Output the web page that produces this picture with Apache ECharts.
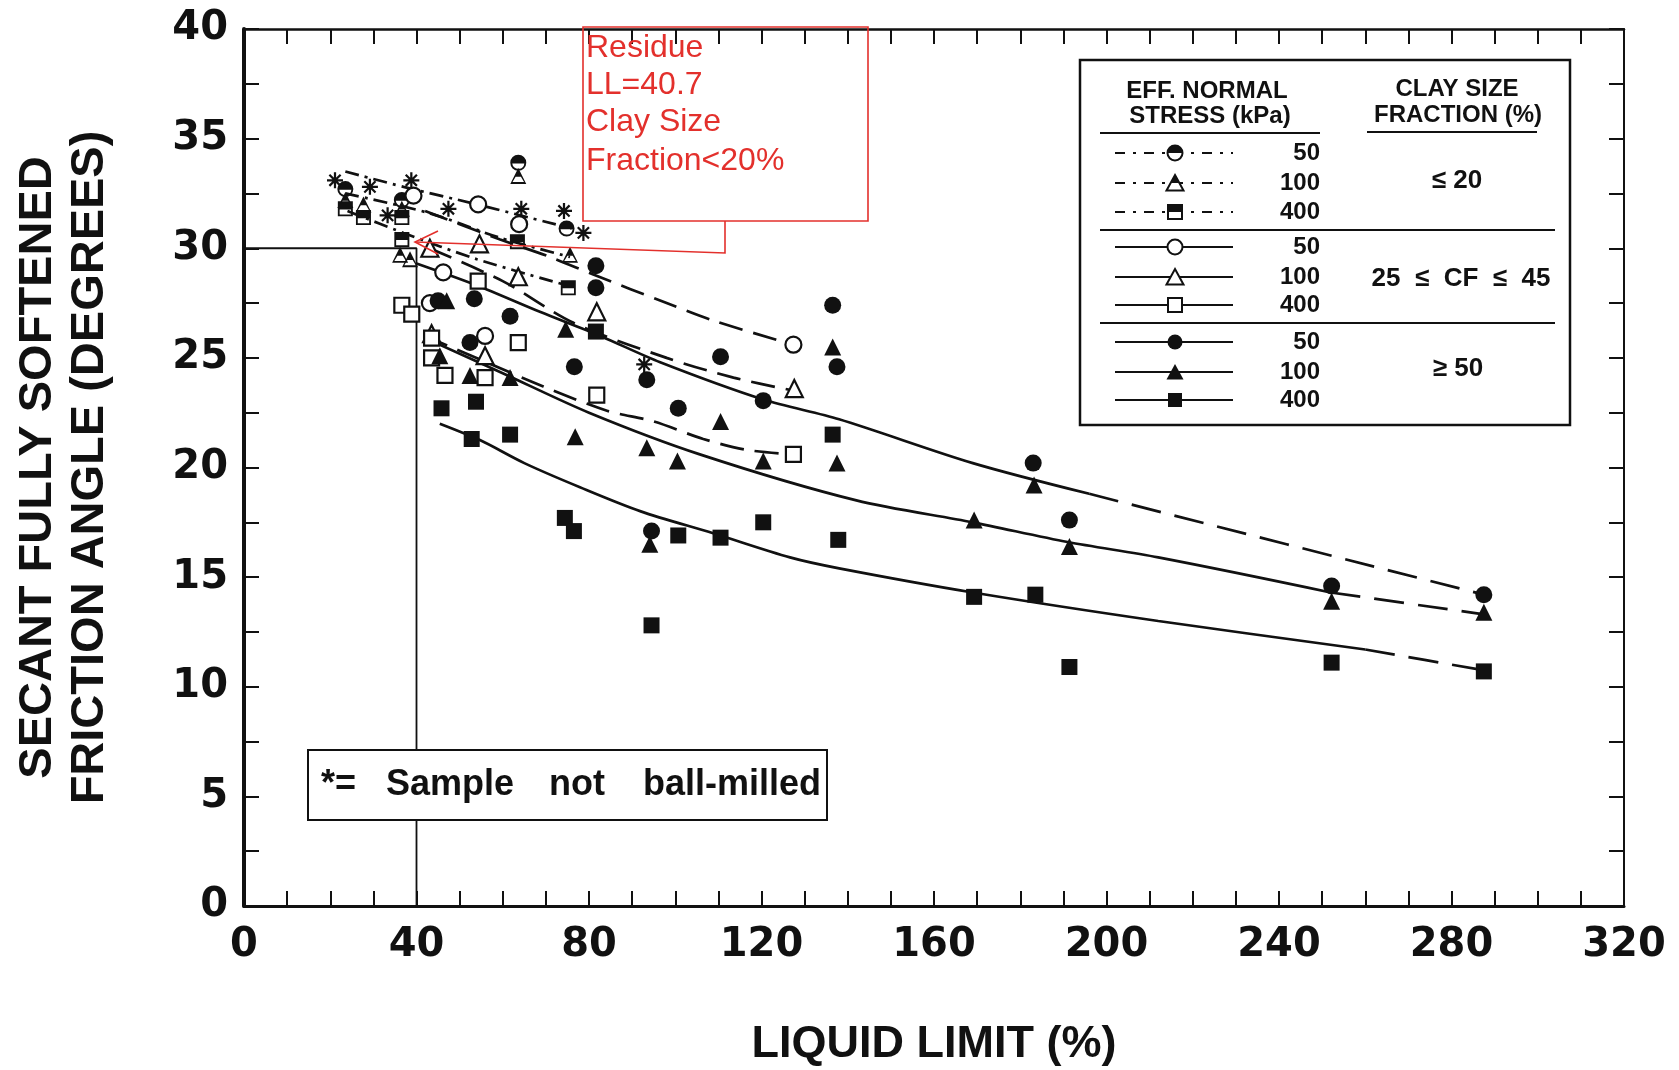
<!DOCTYPE html>
<html><head><meta charset="utf-8">
<script src="https://cdn.jsdelivr.net/npm/echarts@6/dist/echarts.min.js"></script>
<style>html,body{margin:0;padding:0;background:#fff}#chart{width:1679px;height:1070px}</style>
</head><body><div id="chart"></div>
<script>
// ---------- axis ranges ----------
const xRange = [0, 320], xStep = 40;
const yRange = [0, 40], yStep = 5;

// ---------- measured points [liquid limit %, friction angle deg] ----------
// clay size fraction <= 20 % (half-filled symbols)
const c20_50  = [[23.5,32.7],[36.6,32.2],[63.6,33.9],[74.8,30.9]];
const t20_100 = [[23.5,32.2],[27.7,32.0],[36.6,31.8],[63.6,33.3],[75.6,29.7],[36.2,29.7],[38.5,29.5]];
const s20_400 = [[23.5,31.8],[27.7,31.4],[36.6,31.4],[36.6,30.4],[63.4,30.3],[75.2,28.2]];
// 25 <= CF <= 45 (open symbols)
const c25_50  = [[39.3,32.4],[54.3,32.0],[63.8,31.1],[46.2,28.9],[43.1,27.5],[55.9,26.0],[127.4,25.6]];
const t25_100 = [[43.1,30.0],[54.6,30.2],[63.6,28.7],[81.8,27.1],[55.9,25.1],[43.5,26.1],[127.6,23.6]];
const s25_400 = [[36.6,27.4],[38.9,27.0],[54.3,28.5],[63.6,25.7],[43.5,25.9],[43.5,25.0],[46.6,24.2],[55.9,24.1],[81.8,23.3],[127.4,20.6]];
// CF >= 50 (filled symbols)
const c50_50  = [[45.0,27.6],[53.4,27.7],[61.7,26.9],[52.4,25.7],[76.6,24.6],[81.6,28.2],[81.6,29.2],[93.4,24.0],[94.5,17.1],[100.7,22.7],[110.5,25.05],[120.4,23.05],[136.5,27.4],[137.5,24.6],[183.0,20.2],[191.4,17.6],[252.2,14.6],[287.5,14.2]];
const t50_100 = [[47.0,27.6],[45.4,25.1],[52.4,24.2],[61.7,24.1],[74.6,26.3],[76.8,21.4],[93.4,20.9],[94.1,16.5],[100.5,20.3],[110.5,22.1],[120.4,20.3],[136.5,25.5],[137.5,20.2],[169.3,17.6],[183.2,19.2],[191.4,16.4],[252.2,13.9],[287.5,13.4]];
const s50_400 = [[45.8,22.7],[53.8,23.0],[52.8,21.3],[61.7,21.5],[81.6,26.2],[74.4,17.7],[76.5,17.1],[94.5,12.8],[100.7,16.9],[110.5,16.8],[120.4,17.5],[136.5,21.5],[137.8,16.7],[169.3,14.1],[183.5,14.2],[191.4,10.9],[252.2,11.1],[287.5,10.7]];
// samples not ball-milled (*)
const notBallMilled = [[21.1,33.1],[29.2,32.8],[38.8,33.1],[33.3,31.5],[47.4,31.8],[64.3,31.8],[74.2,31.7],[78.7,30.7],[92.8,24.7]];

// ---------- fitted trend lines ----------
const fit20_50  = [[23.5,33.5],[37,32.8],[54,32.0],[76,30.9]];
const fit20_100 = [[23.5,32.5],[43,31.6],[59,30.5],[75.6,29.6]];
const fit20_400 = [[24,31.7],[37,30.7],[54,29.5],[75,28.3]];
const fit25_50  = [[42,31.7],[59.4,30.4],[71,29.6],[81,28.8],[98,27.5],[108.8,26.7],[127.4,25.6]];
const fit25_100 = [[43,30.0],[60,28.5],[76.4,26.6],[98,25.0],[113.5,24.1],[127.6,23.5]];
const fit25_400 = [[42,26.0],[55,24.9],[69.4,23.7],[84,22.6],[95,22.1],[106.5,21.3],[116.6,20.8],[127.4,20.6]];
const fit50_50  = [[40,29.3],[54,28.3],[68.6,27.1],[82.6,26.0],[96.5,24.8],[120.4,23.1],[138,22.2],[169,20.2],[196,18.8]];
const ext50_50  = [[196,18.8],[287.5,14.2]];
const fit50_100 = [[42,25.9],[60,24.3],[80,22.5],[105.7,20.6],[142,18.5],[169,17.5],[191,16.6],[212,15.9],[252,14.3]];
const ext50_100 = [[252,14.3],[287.5,13.3]];
const fit50_400 = [[45.4,22.0],[54.7,21.25],[65,20.2],[77.9,19.1],[92,18.0],[108.8,17.0],[126.6,15.9],[138,15.4],[169,14.3],[212,13.0],[260,11.7]];
const ext50_400 = [[260,11.7],[287.5,10.75]];
// residue reference (LL ~ 40, angle 30)
const residueRef = [[0,30],[40,30],[40,0]];

// ---------- legend texts ----------
const stressLabels = ['50','100','400'];
const clayGroups = ['\u2264 20','25  \u2264  CF  \u2264  45','\u2265 50'];
const annotationLines = ['Residue','LL=40.7','Clay Size','Fraction<20%'];

// ---------- symbols ----------
const P_HALF_CIRCLE = 'M0,50 A50,50 0 1,1 100,50 A50,50 0 1,1 0,50 Z M87.8,54 L12.2,54 A38,38 0 0,0 87.8,54 Z';
const P_HALF_TRI = 'M50,0 L100,100 L0,100 Z M33.5,55 L14,88 L86,88 L66.5,55 Z';
const P_HALF_RECT = 'M0,0 L100,0 L100,100 L0,100 Z M12,54 L12,88 L88,88 L88,54 Z';
const P_STAR = 'M43,0 L57,0 L57,100 L43,100 Z M0,43 L100,43 L100,57 L0,57 Z M19.9,10.1 L89.9,80.1 L80.1,89.9 L10.1,19.9 Z M80.1,10.1 L89.9,19.9 L19.9,89.9 L10.1,80.1 Z';

const INK = '#111';
const RED = '#e3302c';
const NUMFONT = "'DejaVu Sans', sans-serif";
const SANS = "'Liberation Sans', Arial, sans-serif";

function fitLine(name, data, dash) {
  return {name, type:'line', data, symbol:'none', smooth:0.3, silent:true, z:2,
    lineStyle:{color:INK, width:2.7, type:dash}};
}
function pts(name, data, symbol, size, empty) {
  return {name, type:'scatter', data, symbol, symbolSize:size, z:5,
    itemStyle: empty ? {color:'#fff', borderColor:INK, borderWidth:2.2, opacity:1}
                     : {color:INK, borderWidth:0, opacity:1}};
}
const DASHDOT = [14,6,3,6];
const DASH = [24,11];
const LONGDASH = [30,14];

const series = [
  fitLine('fit20_50', fit20_50, DASHDOT),
  fitLine('fit20_100', fit20_100, DASHDOT),
  fitLine('fit20_400', fit20_400, DASHDOT),
  fitLine('fit25_50', fit25_50, DASH),
  fitLine('fit25_100', fit25_100, DASH),
  fitLine('fit25_400', fit25_400, DASH),
  fitLine('fit50_50', fit50_50, 'solid'),
  fitLine('ext50_50', ext50_50, LONGDASH),
  fitLine('fit50_100', fit50_100, 'solid'),
  fitLine('ext50_100', ext50_100, LONGDASH),
  fitLine('fit50_400', fit50_400, 'solid'),
  fitLine('ext50_400', ext50_400, LONGDASH),
  {name:'residue', type:'line', data:residueRef, symbol:'none', silent:true, z:1,
    lineStyle:{color:INK, width:1.8}},
  pts('c20_50', c20_50, 'path://'+P_HALF_CIRCLE, 16, false),
  pts('t20_100', t20_100, 'path://'+P_HALF_TRI, 16, false),
  pts('s20_400', s20_400, 'path://'+P_HALF_RECT, 15, false),
  pts('c25_50', c25_50, 'circle', 16, true),
  pts('t25_100', t25_100, 'triangle', 17, true),
  pts('s25_400', s25_400, 'rect', 15, true),
  pts('c50_50', c50_50, 'circle', 17, false),
  pts('t50_100', t50_100, 'triangle', 17, false),
  pts('s50_400', s50_400, 'rect', 16, false),
  pts('notBallMilled', notBallMilled, 'path://'+P_STAR, 16, false)
];

// ---------- legend drawn with graphic ----------
const G = [];
function txt(x, y, text, size, opts) {
  opts = opts || {};
  G.push({type:'text', x, y, z:20, style:{
    text, fontSize:size, fontWeight:opts.weight||'bold', fontFamily:opts.family||SANS,
    fill:opts.color||INK, align:opts.align||'center', verticalAlign:'middle',
    textAlign:opts.align||'center', textVerticalAlign:'middle'}});
}
function hline(x1, x2, y, w, dash) {
  const st = {stroke:INK, lineWidth:w||2};
  if (dash) st.lineDash = dash;
  G.push({type:'line', z:20, shape:{x1, y1:y, x2, y2:y}, style:st});
}
function legendSym(kind, shape, cx, cy) {
  const open = {fill:'#fff', stroke:INK, lineWidth:2};
  const fill = {fill:INK};
  const st = kind==='filled' ? fill : open;
  if (shape==='circle') {
    G.push({type:'circle', z:21, shape:{cx, cy, r:7.5}, style:st});
    if (kind==='half') G.push({type:'sector', z:22, shape:{cx, cy, r0:0, r:7.5, startAngle:Math.PI, endAngle:Math.PI*2, clockwise:true}, style:fill});
  } else if (shape==='triangle') {
    G.push({type:'polygon', z:21, shape:{points:[[cx,cy-8],[cx+8.5,cy+7.5],[cx-8.5,cy+7.5]]}, style:st});
    if (kind==='half') G.push({type:'polygon', z:22, shape:{points:[[cx,cy-8],[cx+4.5,cy],[cx-4.5,cy]]}, style:fill});
  } else {
    G.push({type:'rect', z:21, shape:{x:cx-7, y:cy-7, width:14, height:14}, style:st});
    if (kind==='half') G.push({type:'rect', z:22, shape:{x:cx-7, y:cy-7, width:14, height:7}, style:fill});
  }
}

// legend frame
G.push({type:'rect', z:19, shape:{x:1080, y:60, width:490, height:365}, style:{fill:'#fff', stroke:INK, lineWidth:2.5}});
txt(1207, 91, 'EFF. NORMAL', 24);
txt(1210, 116, 'STRESS (kPa)', 24);
txt(1457, 89, 'CLAY SIZE', 24);
txt(1458, 115, 'FRACTION (%)', 24);
hline(1100, 1320, 133, 2);
hline(1367, 1537, 132, 2);
hline(1100, 1555, 230, 2);
hline(1100, 1555, 323, 2);
const rowsY = [153,183,212,247,277,305,342,372,400];
const kinds = ['half','open','filled'];
const shapes = ['circle','triangle','rect'];
rowsY.forEach((y, i) => {
  const g = Math.floor(i/3), k = i % 3;
  hline(1115, 1233, y, 2, g===0 ? [10,8,3,8] : null);
  legendSym(kinds[g], shapes[k], 1175, y);
  txt(1320, y, stressLabels[k], 24, {align:'right'});
});
txt(1457, 181, clayGroups[0], 26);
txt(1461, 279, clayGroups[1], 26);
txt(1458, 369, clayGroups[2], 26);

// "* = Sample not ball-milled" box
G.push({type:'rect', z:19, shape:{x:308, y:750, width:519, height:70}, style:{fill:'#fff', stroke:INK, lineWidth:2}});
txt(321, 785, '*=', 36, {align:'left'});
txt(386, 785, 'Sample', 36, {align:'left'});
txt(549, 785, 'not', 36, {align:'left'});
txt(643, 785, 'ball-milled', 36, {align:'left'});

// red annotation
G.push({type:'rect', z:22, shape:{x:583, y:27, width:285, height:194}, style:{fill:'rgba(0,0,0,0)', stroke:RED, lineWidth:1.6}});
[48, 85, 122, 161].forEach((y, i) => txt(586, y, annotationLines[i], 32, {align:'left', weight:'normal', color:RED}));
G.push({type:'polyline', z:22, shape:{points:[[725,221],[725,253],[415,242]]}, style:{stroke:RED, lineWidth:1.6, fill:null}});
G.push({type:'polyline', z:22, shape:{points:[[438,231],[415,242],[438,254]]}, style:{stroke:RED, lineWidth:1.6, fill:null}});

// ---------- axes ----------
function xAx(pos, labels, lw) {
  return {type:'value', position:pos, min:xRange[0], max:xRange[1], interval:xStep,
    axisLine:{show:true, onZero:false, lineStyle:{color:INK, width:lw}},
    axisTick:{show:true, inside:true, length:15, lineStyle:{color:INK, width:2}},
    minorTick:{show:true, splitNumber:4, length:15, lineStyle:{color:INK, width:2}},
    splitLine:{show:false}, minorSplitLine:{show:false},
    axisLabel:{show:labels, margin:20, fontSize:40, fontWeight:'bold', fontFamily:NUMFONT, color:INK},
    name: labels ? 'LIQUID LIMIT (%)' : '', nameLocation:'middle', nameGap:116,
    nameTextStyle:{fontSize:45, fontWeight:'bold', fontFamily:SANS, color:INK}};
}
function yAx(pos, labels, lw) {
  return {type:'value', position:pos, min:yRange[0], max:yRange[1], interval:yStep,
    axisLine:{show:true, onZero:false, lineStyle:{color:INK, width:lw}},
    axisTick:{show:true, inside:true, length:15, lineStyle:{color:INK, width:2}},
    minorTick:{show:true, splitNumber:2, length:15, lineStyle:{color:INK, width:2}},
    splitLine:{show:false}, minorSplitLine:{show:false},
    axisLabel:{show:labels, margin:16, fontSize:40, fontWeight:'bold', fontFamily:NUMFONT, color:INK},
    name: labels ? 'SECANT FULLY SOFTENED\nFRICTION ANGLE (DEGREES)' : '',
    nameLocation:'middle', nameRotate:90, nameGap:128,
    nameTextStyle:{fontSize:47, lineHeight:52, fontWeight:'bold', fontFamily:SANS, color:INK, align:'center'}};
}

const chart = echarts.init(document.getElementById('chart'), null, {renderer:'canvas'});
chart.setOption({
  backgroundColor:'#fff',
  animation:false,
  grid:{left:244, right:55, top:29, bottom:164, containLabel:false, outerBoundsMode:'none'},
  xAxis:[xAx('bottom', true, 3), xAx('top', false, 2.5)],
  yAxis:[yAx('left', true, 4), yAx('right', false, 2)],
  series,
  graphic:{elements:G}
});
</script></body></html>
